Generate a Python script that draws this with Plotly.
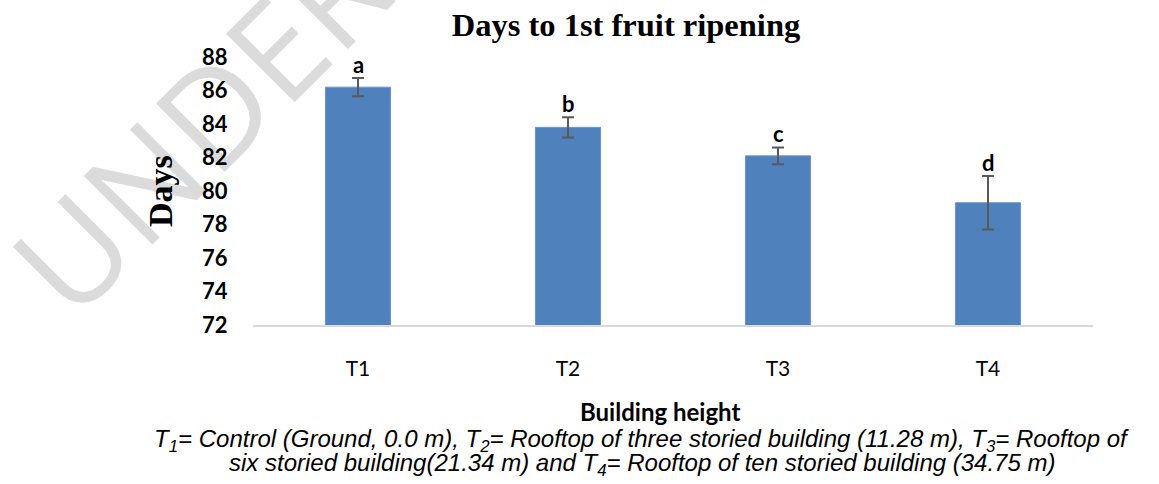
import plotly.graph_objects as go

categories = ["T1", "T2", "T3", "T4"]
days = [86.2, 83.8, 82.1, 79.3]
errors = [0.55, 0.6, 0.5, 1.6]
letters = ["a", "b", "c", "d"]
y_ticks = [72, 74, 76, 78, 80, 82, 84, 86, 88]

W, H = 1159, 484
L, R, T, B = 253, 66, 57, 159
PW, PH = W - L - R, H - T - B


def px(x):
    return (x - L) / PW


def py(y):
    return 1 - (y - T) / PH


fig = go.Figure()
fig.add_trace(go.Bar(
    x=categories, y=days, width=0.31,
    marker=dict(color="#4F81BD", line=dict(color="#6d95c9", width=1)),
    error_y=dict(type="data", array=errors, visible=True, color="#595959", thickness=2, width=6),
    hoverinfo="skip",
))

for c, v, e, l in zip(categories, days, errors, letters):
    fig.add_annotation(x=c, y=v + e, text=l, showarrow=False, yanchor="bottom", yshift=-2,
                       font=dict(family="Lato, Open Sans, sans-serif", size=22, color="black", weight="bold"))

# watermark
fig.add_annotation(xref="paper", yref="paper", x=px(198), y=py(124),
                   text="UNDER", showarrow=False, textangle=-45, xanchor="center", yanchor="middle",
                   font=dict(family="Open Sans, sans-serif", size=136, color="rgba(0,0,0,0.14)"))

fig.add_annotation(xref="paper", yref="paper", x=px(160), y=py(191),
                   text="<b>Days</b>", showarrow=False, textangle=-90, xanchor="center", yanchor="middle",
                   font=dict(family="Liberation Serif, Times New Roman, serif", size=34, color="black"))

fig.add_annotation(xref="paper", yref="paper", x=px(660), y=py(411),
                   text="<b>Building height</b>", showarrow=False, xanchor="center", yanchor="middle",
                   font=dict(family="Lato, Open Sans, sans-serif", size=24, color="black"))

cap_font = dict(family="Liberation Sans, Arial, sans-serif", size=24, color="black")
fig.add_annotation(xref="paper", yref="paper", x=px(641), y=py(440),
                   text="<i>T<sub>1</sub>= Control (Ground, 0.0 m), T<sub>2</sub>= Rooftop of three storied building (11.28 m), T<sub>3</sub>= Rooftop of</i>",
                   showarrow=False, xanchor="center", yanchor="middle", font=cap_font)
fig.add_annotation(xref="paper", yref="paper", x=px(642), y=py(464),
                   text="<i>six storied building(21.34 m) and T<sub>4</sub>= Rooftop of ten storied building (34.75 m)</i>",
                   showarrow=False, xanchor="center", yanchor="middle", font=cap_font)

fig.update_layout(
    width=W, height=H,
    margin=dict(l=L, r=R, t=T, b=B),
    paper_bgcolor="white", plot_bgcolor="white",
    showlegend=False,
    title=dict(text="<b>Days to 1st fruit ripening</b>", x=626 / W, xref="container", xanchor="center",
               y=1 - 25 / H, yref="container", yanchor="middle",
               font=dict(family="Liberation Serif, Times New Roman, serif", size=32.5, color="black")),
    xaxis=dict(showgrid=False, showline=True, linecolor="#d9d9d9", linewidth=1.5, ticks="outside", ticklen=0,
               ticklabelstandoff=24, tickfont=dict(family="Lato, Open Sans, sans-serif", size=21, color="black"),
               zeroline=False),
    yaxis=dict(range=[72, 88], tickvals=y_ticks, showgrid=False, showline=False, zeroline=False,
               ticks="outside", ticklen=0, ticklabelstandoff=20,
               tickfont=dict(family="Lato, Open Sans, sans-serif", size=22, color="black", weight="bold")),
)

fig.write_html("out.html", config={"displayModeBar": False},
               post_script="document.body.style.margin='0';")
